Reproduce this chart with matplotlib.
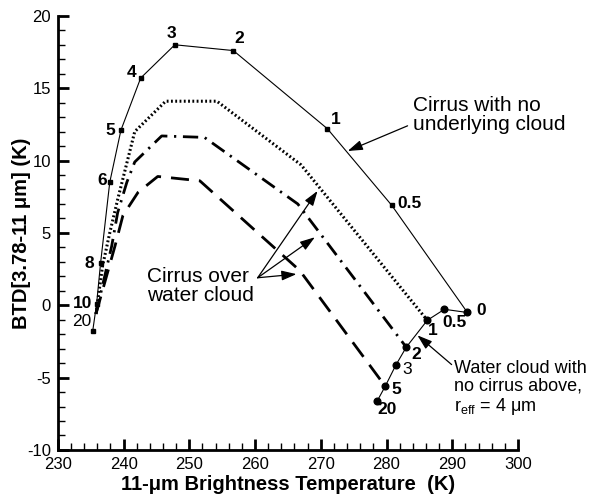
import matplotlib
matplotlib.use("Agg")
import matplotlib.pyplot as plt
from matplotlib.ticker import MultipleLocator

plt.rcParams["font.family"] = ["Liberation Sans", "DejaVu Sans"]
plt.rcParams["mathtext.fontset"] = "custom"
plt.rcParams["mathtext.rm"] = "Liberation Sans"
plt.rcParams["mathtext.it"] = "Liberation Sans:italic"
plt.rcParams["axes.unicode_minus"] = False

# Cirrus with no underlying cloud (labelled by optical depth)
cirrus_tau = ["20", "10", "8", "6", "5", "4", "3", "2", "1", "0.5", "0"]
cirrus_bt = [235.3, 235.9, 236.5, 237.9, 239.6, 242.6, 247.8, 256.7, 271.0, 280.8, 292.3]
cirrus_btd = [-1.8, 0.1, 2.9, 8.5, 12.1, 15.7, 18.0, 17.6, 12.2, 6.9, -0.5]

# Water cloud with no cirrus above (labelled by optical depth)
water_tau = ["0", "0.5", "1", "2", "3", "5", "20"]
water_bt = [292.3, 288.8, 286.2, 283.0, 281.4, 279.8, 278.6]
water_btd = [-0.5, -0.28, -1.04, -2.9, -4.15, -5.6, -6.6]

# Cirrus over water cloud, three water-cloud optical depths
dotted_bt = [235.8, 236.8, 237.9, 239.1, 241.7, 246.4, 254.2, 267.0, 286.2]
dotted_btd = [-0.6, 2.7, 5.0, 7.3, 12.0, 14.1, 14.1, 9.7, -1.04]

dashdot_bt = [235.8, 238.2, 239.1, 240.5, 241.7, 245.8, 252.3, 266.5, 283.0]
dashdot_btd = [-0.6, 4.1, 6.4, 8.5, 9.9, 11.7, 11.6, 7.0, -2.9]

dashed_bt = [235.8, 238.7, 239.9, 242.2, 245.2, 251.6, 266.8, 279.8]
dashed_btd = [-0.6, 4.1, 6.2, 7.8, 8.9, 8.6, 2.4, -5.6]

fig = plt.figure(figsize=(5.9, 4.95), dpi=100)
ax = fig.add_axes([0.098, 0.091, 0.78, 0.877])

ax.plot(dotted_bt, dotted_btd, color="black", lw=2.2, linestyle=(0, (0.6, 0.8)))
ax.plot(dashdot_bt, dashdot_btd, color="black", lw=2.0, linestyle=(0, (5.5, 2.4, 0.8, 2.4)))
ax.plot(dashed_bt, dashed_btd, color="black", lw=2.0, linestyle=(0, (6.5, 3.6)))
ax.plot(cirrus_bt, cirrus_btd, color="black", lw=0.8, marker="s", ms=3.4)
ax.plot(water_bt, water_btd, color="black", lw=0.8, marker="o", ms=4.8)

# value labels: (dx, dy) offsets in pixels, bold flag
cirrus_off = [(-11, 10, False), (-14, 0, True), (-11, 0, True), (-8, 2, True),
              (-11, 0, True), (-9, 6, True), (-3, 11, True), (6, 12, True),
              (8, 9, True), (18, 2, True), (14, 2, True)]
for t, x, y, (dx, dy, b) in zip(cirrus_tau, cirrus_bt, cirrus_btd, cirrus_off):
    ax.annotate(t, (x, y), xytext=(dx, dy), textcoords="offset pixels",
                ha="center", va="center", fontsize=12.5,
                fontweight="bold" if b else "normal")

water_off = [None, (10, -13, True), (5, -10, True), (10, -7, True),
             (11, -4, False), (11, -3, True), (10, -9, True)]
for t, x, y, off in zip(water_tau, water_bt, water_btd, water_off):
    if off is None:
        continue
    dx, dy, b = off
    ax.annotate(t, (x, y), xytext=(dx, dy), textcoords="offset pixels",
                ha="center", va="center", fontsize=12.5,
                fontweight="bold" if b else "normal")

arrow = dict(arrowstyle="-|>,head_length=0.9,head_width=0.3", color="black",
             lw=0.9, shrinkA=0, shrinkB=0)

ax.annotate("", xy=(274.1, 10.66), xytext=(283.2, 12.4), arrowprops=arrow)
ax.text(284.0, 13.15, "Cirrus with no\nunderlying cloud", fontsize=15,
        ha="left", va="center", linespacing=1.0)

for tip in [(269.5, 7.9), (269.1, 4.7), (266.3, 2.15)]:
    ax.annotate("", xy=tip, xytext=(260.4, 1.9), arrowprops=arrow)
ax.text(243.5, 1.3, "Cirrus over\nwater cloud", fontsize=15,
        ha="left", va="center", linespacing=1.0)

ax.annotate("", xy=(284.7, -2.08), xytext=(289.9, -4.1), arrowprops=arrow)
ax.text(290.3, -5.75,
        "Water cloud with\nno cirrus above,\nr$_{\\mathrm{eff}}$ = 4 μm",
        fontsize=13, ha="left", va="center", linespacing=1.05)

ax.set_xlim(230, 300)
ax.set_ylim(-10, 20)
ax.xaxis.set_major_locator(MultipleLocator(10))
ax.xaxis.set_minor_locator(MultipleLocator(2))
ax.yaxis.set_major_locator(MultipleLocator(5))
ax.yaxis.set_minor_locator(MultipleLocator(1))
ax.tick_params(which="major", direction="in", length=8, width=2, labelsize=12, pad=5)
ax.tick_params(which="minor", direction="in", length=5, width=1)
for s in ["top", "right"]:
    ax.spines[s].set_visible(False)
for s in ["left", "bottom"]:
    ax.spines[s].set_linewidth(2)

ax.set_xlabel("11-μm Brightness Temperature  (K)", fontsize=14.5, fontweight="bold", labelpad=2)
ax.set_ylabel("BTD[3.78-11 μm] (K)", fontsize=14.5, fontweight="bold")
ax.yaxis.set_label_coords(-0.058, 0.5)

fig.savefig("out.png", dpi=100)
